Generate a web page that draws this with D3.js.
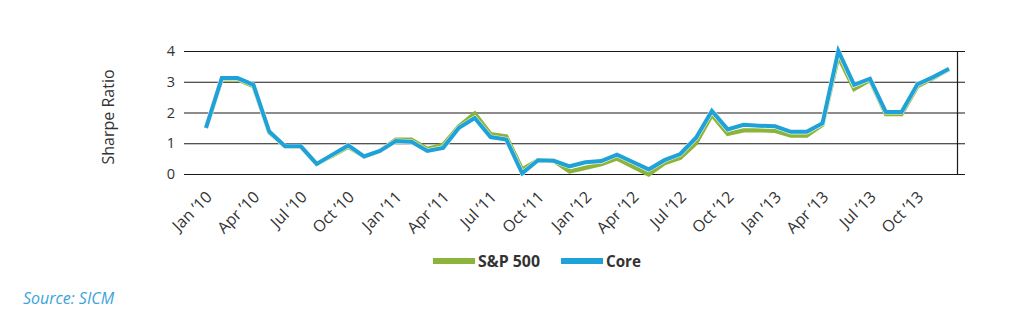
<!DOCTYPE html>
<html>
<head>
<meta charset="utf-8">
<script src="https://cdn.jsdelivr.net/npm/d3@7"></script>
<style>
  body { margin: 0; background: #fff; }
  text { font-family: "Open Sans", "Noto Sans", sans-serif; }
</style>
</head>
<body>
<svg width="1020" height="332"></svg>
<script>
// monthly points, Jan 2010 - Dec 2013
var months = d3.timeMonths(new Date(2010, 0, 1), new Date(2014, 0, 1));
var tickLabels = ["Jan \u201910", "Apr \u201910", "Jul \u201910", "Oct \u201910",
                  "Jan \u201911", "Apr \u201911", "Jul \u201911", "Oct \u201911",
                  "Jan \u201912", "Apr \u201912", "Jul \u201912", "Oct \u201912",
                  "Jan \u201913", "Apr \u201913", "Jul \u201913", "Oct \u201913"];
var yTicks = [0, 1, 2, 3, 4];

var sp500 = [1.50, 3.08, 3.08, 2.85, 1.35, 0.90, 0.88, 0.33, 0.60, 0.88, 0.57, 0.75,
             1.12, 1.12, 0.82, 0.95, 1.55, 1.97, 1.30, 1.22, 0.15, 0.45, 0.43, 0.08,
             0.20, 0.32, 0.50, 0.24, -0.02, 0.35, 0.52, 1.00, 1.92, 1.30, 1.42, 1.42,
             1.40, 1.25, 1.25, 1.60, 3.82, 2.76, 3.05, 1.95, 1.95, 2.85, 3.12, 3.40];
var core  = [1.50, 3.12, 3.12, 2.90, 1.38, 0.90, 0.90, 0.33, 0.63, 0.93, 0.57, 0.75,
             1.07, 1.05, 0.75, 0.85, 1.50, 1.82, 1.20, 1.12, 0.02, 0.45, 0.43, 0.25,
             0.38, 0.42, 0.63, 0.39, 0.15, 0.45, 0.65, 1.18, 2.05, 1.45, 1.60, 1.57,
             1.55, 1.37, 1.37, 1.65, 4.00, 2.90, 3.10, 2.02, 2.02, 2.92, 3.15, 3.42];

var seriesNames = ["S&P 500", "Core"];
var colors = ["#8bb43a", "#1ea2d8"];

var svg = d3.select("svg");

var x = d3.scalePoint().domain(d3.range(months.length)).range([206, 949]);
var y = d3.scaleLinear().domain([0, 4]).range([174, 51]);

// grid lines (they run past the right axis like outward ticks)
svg.append("g")
   .attr("transform", "translate(965,0)")
   .call(d3.axisLeft(y).tickValues(yTicks).tickSize(781).tickFormat(""))
   .call(function(g) {
       g.select(".domain").remove();
       g.selectAll("line").attr("stroke", "#1a1a1a").attr("stroke-width", 1.2);
   });

// right axis line
svg.append("line")
   .attr("x1", 957.5).attr("x2", 957.5)
   .attr("y1", y(4)).attr("y2", y(0))
   .attr("stroke", "#1a1a1a").attr("stroke-width", 1.2);

// y tick labels
svg.append("g").selectAll("text")
   .data(yTicks).enter().append("text")
   .attr("x", 175).attr("y", function(d) { return y(d); })
   .attr("dy", "0.36em")
   .attr("text-anchor", "end")
   .attr("font-size", "14.5px")
   .attr("fill", "#333")
   .text(function(d) { return d; });

// x tick labels, every third month
svg.append("g").selectAll("text")
   .data(tickLabels).enter().append("text")
   .attr("transform", function(d, i) {
       return "translate(" + (x(i * 3) + 7) + ",198) rotate(-45)";
   })
   .attr("text-anchor", "end")
   .attr("font-size", "16px")
   .attr("fill", "#333")
   .text(function(d) { return d; });

// y axis title
svg.append("text")
   .attr("transform", "translate(114,117) rotate(-90)")
   .attr("text-anchor", "middle")
   .attr("font-size", "16px")
   .attr("fill", "#333")
   .text("Sharpe Ratio");

var line = d3.line()
   .x(function(d, i) { return x(i); })
   .y(function(d) { return y(d); });

svg.append("path").datum(sp500)
   .attr("d", line).attr("fill", "none")
   .attr("stroke", colors[0]).attr("stroke-width", 4.2)
   .attr("stroke-linejoin", "miter");

svg.append("path").datum(core)
   .attr("d", line).attr("fill", "none")
   .attr("stroke", "#fff").attr("stroke-width", 5.2)
   .attr("stroke-opacity", 0.8);

svg.append("path").datum(core)
   .attr("d", line).attr("fill", "none")
   .attr("stroke", colors[1]).attr("stroke-width", 4)
   .attr("stroke-linejoin", "miter");

// legend
var legendX = [433, 561];
var legend = svg.append("g").selectAll("g")
   .data(seriesNames).enter().append("g")
   .attr("transform", function(d, i) { return "translate(" + legendX[i] + ",261)"; });
legend.append("rect")
   .attr("x", 0).attr("y", -3).attr("width", 42).attr("height", 6)
   .attr("fill", function(d, i) { return colors[i]; });
legend.append("text")
   .attr("x", 45).attr("dy", "0.36em")
   .attr("font-size", "16px")
   .attr("font-weight", "bold")
   .attr("fill", "#333")
   .attr("textLength", function(d, i) { return i === 0 ? 62 : 35; })
   .attr("lengthAdjust", "spacingAndGlyphs")
   .text(function(d) { return d; });

// source note
svg.append("text")
   .attr("x", 23).attr("y", 304)
   .attr("font-size", "15.5px")
   .attr("font-style", "italic")
   .attr("fill", "#3aa3dc")
   .attr("textLength", 91)
   .attr("lengthAdjust", "spacingAndGlyphs")
   .text("Source: SICM");
</script>
</body>
</html>
